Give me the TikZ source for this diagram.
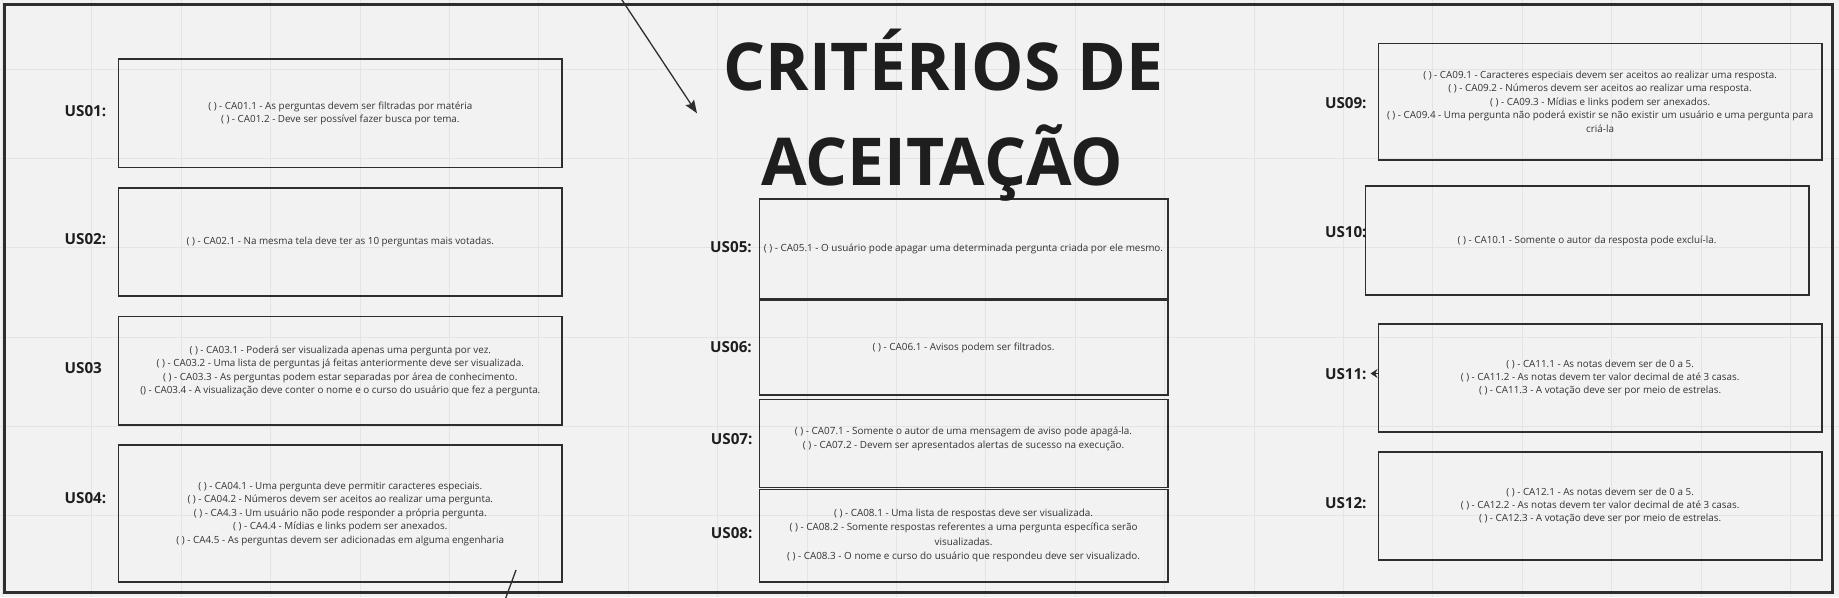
\documentclass[tikz,border=0pt]{standalone}
\usepackage{fontspec}
\setmainfont{Open Sans}
\usetikzlibrary{arrows.meta}
\definecolor{bg}{HTML}{F2F2F2}
\definecolor{gridc}{HTML}{E4E4E4}
\definecolor{linec}{HTML}{2E2E2E}
\definecolor{txtc}{HTML}{333333}
\definecolor{titlec}{HTML}{1E1E1E}
\tikzset{
  cabox/.style={draw=linec, line width=1.6pt, inner sep=0pt, align=center, text=txtc,
    font=\fontsize{9.85}{13.4}\selectfont},
  midbox/.style={cabox, font=\fontsize{9.9}{14.3}\selectfont},
  uslabel/.style={anchor=west, inner sep=0pt, text=titlec, font=\fontsize{15.2}{18}\selectfont\bfseries},
  titletext/.style={anchor=base, inner sep=0pt, text=titlec, font=\fontsize{66}{80}\selectfont\bfseries},
  conn/.style={draw=linec, line width=1.3pt}
}
\begin{document}
\begin{tikzpicture}[x=1pt,y=-1pt]
\useasboundingbox (0,0) rectangle (1839,597);
\fill[bg] (0,0) rectangle (1839,597);
% grid
\foreach \k in {0,...,20} { \draw[gridc, line width=0.8pt] ({2.3+89.4*\k},0) -- ({2.3+89.4*\k},597); }
\foreach \k in {1,...,6} { \draw[gridc, line width=0.8pt] (0,{-19.9+89.2*\k}) -- (1839,{-19.9+89.2*\k}); }
% frame
\draw[linec, line width=3pt] (4.5,4.5) rectangle (1832,592);

% left column
\node[cabox, minimum width=443.4pt, minimum height=108.5pt] (b1) at (340.3,113.25)
  {( ) - CA01.1 - As perguntas devem ser filtradas por matéria\\( ) - CA01.2 - Deve ser possível fazer busca por tema.};
\node[cabox, minimum width=443.4pt, minimum height=108pt] (b2) at (340.3,242)
  {( ) - CA02.1 - Na mesma tela deve ter as 10 perguntas mais votadas.};
\node[cabox, minimum width=443.4pt, minimum height=108.5pt] (b3) at (340.3,370.9)
  {( ) - CA03.1 - Poderá ser visualizada apenas uma pergunta por vez.\\( ) - CA03.2 - Uma lista de perguntas já feitas anteriormente deve ser visualizada.\\( ) - CA03.3 - As perguntas podem estar separadas por área de conhecimento.\\() - CA03.4 - A visualização deve conter o nome e o curso do usuário que fez a pergunta.};
\node[cabox, minimum width=443.4pt, minimum height=137pt] (b4) at (340.3,513.7)
  {( ) - CA04.1 - Uma pergunta deve permitir caracteres especiais.\\( ) - CA04.2 - Números devem ser aceitos ao realizar uma pergunta.\\( ) - CA4.3 - Um usuário não pode responder a própria pergunta.\\( ) - CA4.4 - Mídias e links podem ser anexados.\\( ) - CA4.5 - As perguntas devem ser adicionadas em alguma engenharia};

\node[uslabel] (l1) at (64.5,111.3) {US01:};
\node[uslabel] (l2) at (64.5,239.3) {US02:};
\node[uslabel] (l3) at (64.5,367.7) {US03};
\node[uslabel] (l4) at (64.5,497.7) {US04:};

% middle column
\node[midbox, minimum width=408.4pt, minimum height=99.3pt] (b5) at (963.5,248.65)
  {( ) - CA05.1 - O usuário pode apagar uma determinada pergunta criada por ele mesmo.};
\node[midbox, minimum width=408.4pt, minimum height=95pt] (b6) at (963.5,347.5)
  {( ) - CA06.1 - Avisos podem ser filtrados.};
\node[midbox, minimum width=408.4pt, minimum height=88pt] (b7) at (963.5,443.3)
  {( ) - CA07.1 - Somente o autor de uma mensagem de aviso pode apagá-la.\\( ) - CA07.2 - Devem ser apresentados alertas de sucesso na execução.\\[-3.4pt]};
\node[midbox, minimum width=408.4pt, minimum height=92.4pt] (b8) at (963.5,535.5)
  {( ) - CA08.1 - Uma lista de respostas deve ser visualizada.\\( ) - CA08.2 - Somente respostas referentes a uma pergunta específica serão\\visualizadas.\\( ) - CA08.3 - O nome e curso do usuário que respondeu deve ser visualizado.};

\node[uslabel] (l5) at (710,246.7) {US05:};
\node[uslabel] (l6) at (710,347.3) {US06:};
\node[uslabel] (l7) at (710.7,439) {US07:};
\node[uslabel] (l8) at (710.7,533.3) {US08:};

% right column
\node[cabox, minimum width=443.4pt, minimum height=116.7pt] (b9) at (1600.1,101.65)
  {( ) - CA09.1 - Caracteres especiais devem ser aceitos ao realizar uma resposta.\\( ) - CA09.2 - Números devem ser aceitos ao realizar uma resposta.\\( ) - CA09.3 - Mídias e links podem ser anexados.\\( ) - CA09.4 - Uma pergunta não poderá existir se não existir um usuário e uma pergunta para\\criá-la};
\node[cabox, minimum width=443.5pt, minimum height=109pt] (b10) at (1587.05,240.5)
  {( ) - CA10.1 - Somente o autor da resposta pode excluí-la.};
\node[cabox, minimum width=443.4pt, minimum height=107.7pt] (b11) at (1600.1,377.85)
  {( ) - CA11.1 - As notas devem ser de 0 a 5.\\( ) - CA11.2 - As notas devem ter valor decimal de até 3 casas.\\( ) - CA11.3 - A votação deve ser por meio de estrelas.};
\node[cabox, minimum width=443.4pt, minimum height=108.3pt] (b12) at (1600.1,505.85)
  {( ) - CA12.1 - As notas devem ser de 0 a 5.\\( ) - CA12.2 - As notas devem ter valor decimal de até 3 casas.\\( ) - CA12.3 - A votação deve ser por meio de estrelas.};

\node[uslabel] (l9) at (1324.8,103.3) {US09:};
\node[uslabel] (l10) at (1324.8,231.7) {US10:};
\node[uslabel] (l11) at (1324.8,374) {US11:};
\node[uslabel] (l12) at (1324.8,503.3) {US12:};

% small arrowhead next to US11
\coordinate (m0) at (1379,373.5);
\coordinate (m1) at (1370.5,373.5);
\draw[linec, line width=1pt, -{Stealth[length=7pt,width=9pt]}] (m0) -- (m1);

% title
\node[titletext] (t1) at (943.4,90.7) {CRITÉRIOS DE};
\node[titletext] (t2) at (942,185) {ACEITAÇÃO};

% connectors
\coordinate (a0) at (620,-3);
\coordinate (a1) at (697,113.3);
\draw[conn, -{Stealth[length=13pt,width=10pt,inset=2pt]}] (a0) -- (a1);
\coordinate (s0) at (516,570);
\coordinate (s1) at (505,600);
\draw[conn] (s0) -- (s1);
\end{tikzpicture}
\end{document}
